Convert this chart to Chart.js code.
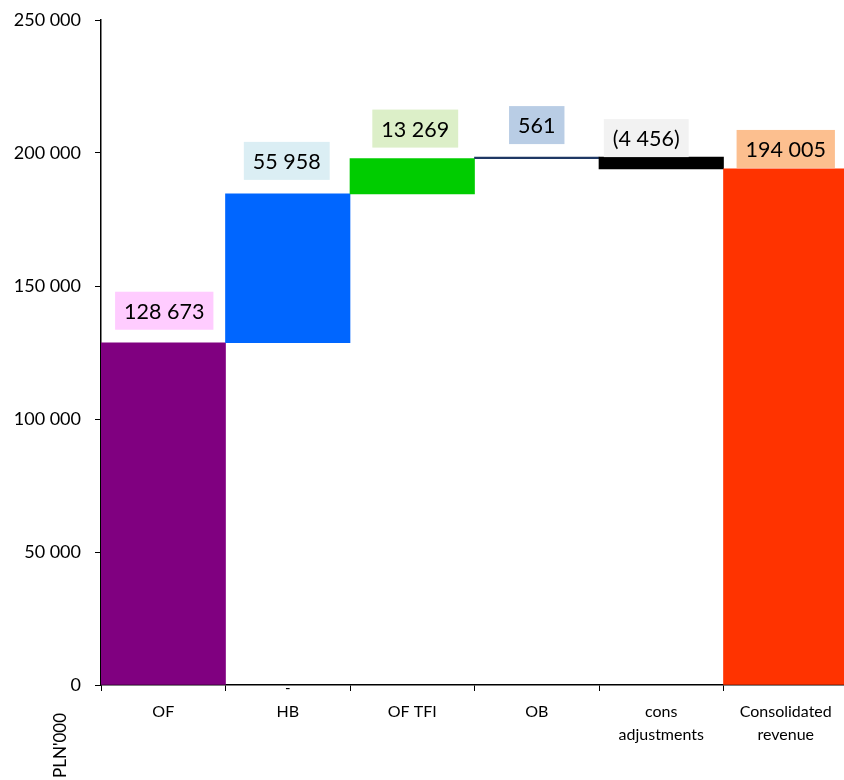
<!DOCTYPE html>
<html>
<head>
<meta charset="utf-8">
<script src="https://cdn.jsdelivr.net/npm/chart.js@4/dist/chart.umd.min.js"></script>
<style>
  html, body { margin: 0; padding: 0; background: #fff; overflow: hidden; }
  #wrap { width: 848px; height: 780px; }
</style>
</head>
<body>
<div id="wrap"><canvas id="revenueChart"></canvas></div>
<script>
var categories = ["OF", "HB", "OF TFI", "OB", ["cons", "adjustments"], ["Consolidated", "revenue"]];
var values = [128673, 55958, 13269, 561, -4456, 194005];
var isTotal = [false, false, false, false, false, true];
var yTicks = [0, 50000, 100000, 150000, 200000, 250000];
var barColors = ["#800080", "#0066ff", "#00cc00", "#1f3864", "#000000", "#ff3300"];
var boxColors = ["#ffccff", "#dbeef4", "#dcefc8", "#b9cde5", "#f2f2f2", "#fcbf8f"];

// thousands with a space, negatives in brackets
function fmt(v) {
  var s = Math.abs(v).toString().replace(/\B(?=(\d{3})+(?!\d))/g, " ");
  return v < 0 ? "(" + s + ")" : s;
}

// running total -> floating [start, end] bars
var running = 0;
var ranges = values.map(function (v, i) {
  if (isTotal[i]) { running = v; return [0, v]; }
  var start = running;
  running += v;
  return [start, running];
});

var valueBoxes = {
  id: "valueBoxes",
  afterDatasetsDraw: function (chart, args, opts) {
    var ctx = chart.ctx;
    var meta = chart.getDatasetMeta(0);
    ctx.save();
    ctx.font = opts.font;
    ctx.textAlign = "center";
    ctx.textBaseline = "middle";
    meta.data.forEach(function (bar, i) {
      var text = fmt(values[i]);
      var top = Math.min(bar.y, bar.base);
      var w = ctx.measureText(text).width + opts.padX * 2;
      var h = opts.boxHeight;
      var cx = bar.x + opts.dx[i];
      var bottom = top - opts.gap[i];
      ctx.fillStyle = boxColors[i];
      ctx.fillRect(cx - w / 2, bottom - h, w, h);
      ctx.fillStyle = "#000";
      ctx.fillText(text, cx, bottom - h / 2 + 1);
    });
    ctx.restore();
  },
  afterDraw: function (chart) {
    var ctx = chart.ctx;
    var area = chart.chartArea;
    var hb = chart.getDatasetMeta(0).data[1];
    ctx.save();
    ctx.fillStyle = "#000";
    ctx.font = "15px Lato";
    ctx.textAlign = "center";
    ctx.textBaseline = "middle";
    ctx.fillText("-", hb.x, area.bottom + 3);
    // unit label, rotated, hanging under the y axis
    ctx.translate(area.left - 40, area.bottom + 28);
    ctx.rotate(-Math.PI / 2);
    ctx.textAlign = "right";
    ctx.font = "17px Lato";
    ctx.fillText("PLN'000", 0, 0);
    ctx.restore();
  }
};

new Chart(document.getElementById("revenueChart"), {
  type: "bar",
  data: {
    labels: categories,
    datasets: [{
      data: ranges,
      backgroundColor: barColors,
      borderWidth: 0,
      barPercentage: 1,
      categoryPercentage: 1
    }]
  },
  options: {
    responsive: true,
    maintainAspectRatio: false,
    animation: false,
    layout: { padding: { top: 20, right: 0, left: 0, bottom: 0 } },
    plugins: {
      legend: { display: false },
      tooltip: { enabled: false },
      valueBoxes: {
        font: "21.5px Lato",
        padX: 9,
        boxHeight: 38,
        dx: [1, -1, 3, 0, -15, 0],
        gap: [13, 14, 11, 13, 0, 1]
      }
    },
    scales: {
      x: {
        grid: { drawOnChartArea: false, drawTicks: true, tickLength: 6, color: "#000", offset: true },
        border: { color: "#000", width: 1.5 },
        ticks: { color: "#000", font: { family: "Lato", size: 16, lineHeight: 1.45 }, padding: 9, maxRotation: 0, autoSkip: false },
        afterFit: function (s) { s.height = 95; s.paddingLeft = 0; s.paddingRight = 0; }
      },
      y: {
        min: 0,
        max: 250000,
        afterBuildTicks: function (s) { s.ticks = yTicks.map(function (v) { return { value: v }; }); },
        grid: { drawOnChartArea: false, drawTicks: true, tickLength: 6, color: "#000" },
        border: { color: "#000", width: 1.5 },
        ticks: { color: "#000", font: { family: "Lato", size: 18 }, padding: 14, callback: function (v) { return fmt(v); } },
        afterFit: function (s) { s.width = 101; s.paddingTop = 0; s.paddingBottom = 0; }
      }
    }
  },
  plugins: [valueBoxes]
});
</script>
</body>
</html>
